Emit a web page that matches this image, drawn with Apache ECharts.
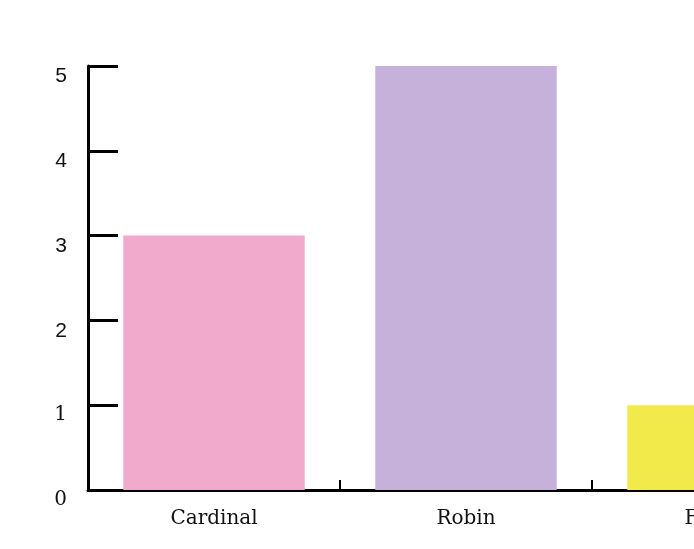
<!DOCTYPE html>
<html><head><meta charset="utf-8">
<script src="https://cdn.jsdelivr.net/npm/echarts@6/dist/echarts.min.js"></script>
<style>html,body{margin:0;padding:0;background:#fff}#c{width:694px;height:549px}</style>
</head><body><div id="c"></div>
<script>
const categories = ['Cardinal', 'Robin', 'Falcon'];
const values = [3, 5, 1];
const colors = ['#f1a9cc', '#c5b1d9', '#f1ea4a'];
const yTicks = [0, 1, 2, 3, 4, 5];

const chart = echarts.init(document.getElementById('c'));
chart.setOption({
  animation: false,
  grid: { left: 88, top: 66, height: 424, width: 756, outerBoundsMode: 'none', containLabel: false },
  xAxis: {
    type: 'category', data: categories,
    axisLine: { lineStyle: { color: '#000', width: 3 } },
    axisTick: { show: true, inside: true, length: 10, lineStyle: { color: '#000', width: 2 } },
    axisLabel: { color: '#111', fontFamily: 'DejaVu Serif', fontSize: 20, margin: 19 }
  },
  yAxis: {
    type: 'value', min: yTicks[0], max: yTicks[yTicks.length - 1], interval: 1,
    splitLine: { show: false },
    axisLine: { show: true, lineStyle: { color: '#000', width: 3 } },
    axisTick: { show: true, inside: true, length: 30, lineStyle: { color: '#000', width: 3 } },
    axisLabel: {
      color: '#111', margin: 21, verticalAlign: 'top',
      formatter: v => (v <= 1 ? '{s|' + v + '}' : '{a|' + v + '}'),
      rich: {
        s: { fontFamily: 'DejaVu Serif', fontSize: 20, color: '#111' },
        a: { fontFamily: 'Liberation Sans', fontSize: 21, color: '#111' }
      }
    }
  },
  series: [{
    type: 'bar', barCategoryGap: '28%',
    data: values.map((v, i) => ({ value: v, itemStyle: { color: colors[i] } }))
  }]
});
</script></body></html>
